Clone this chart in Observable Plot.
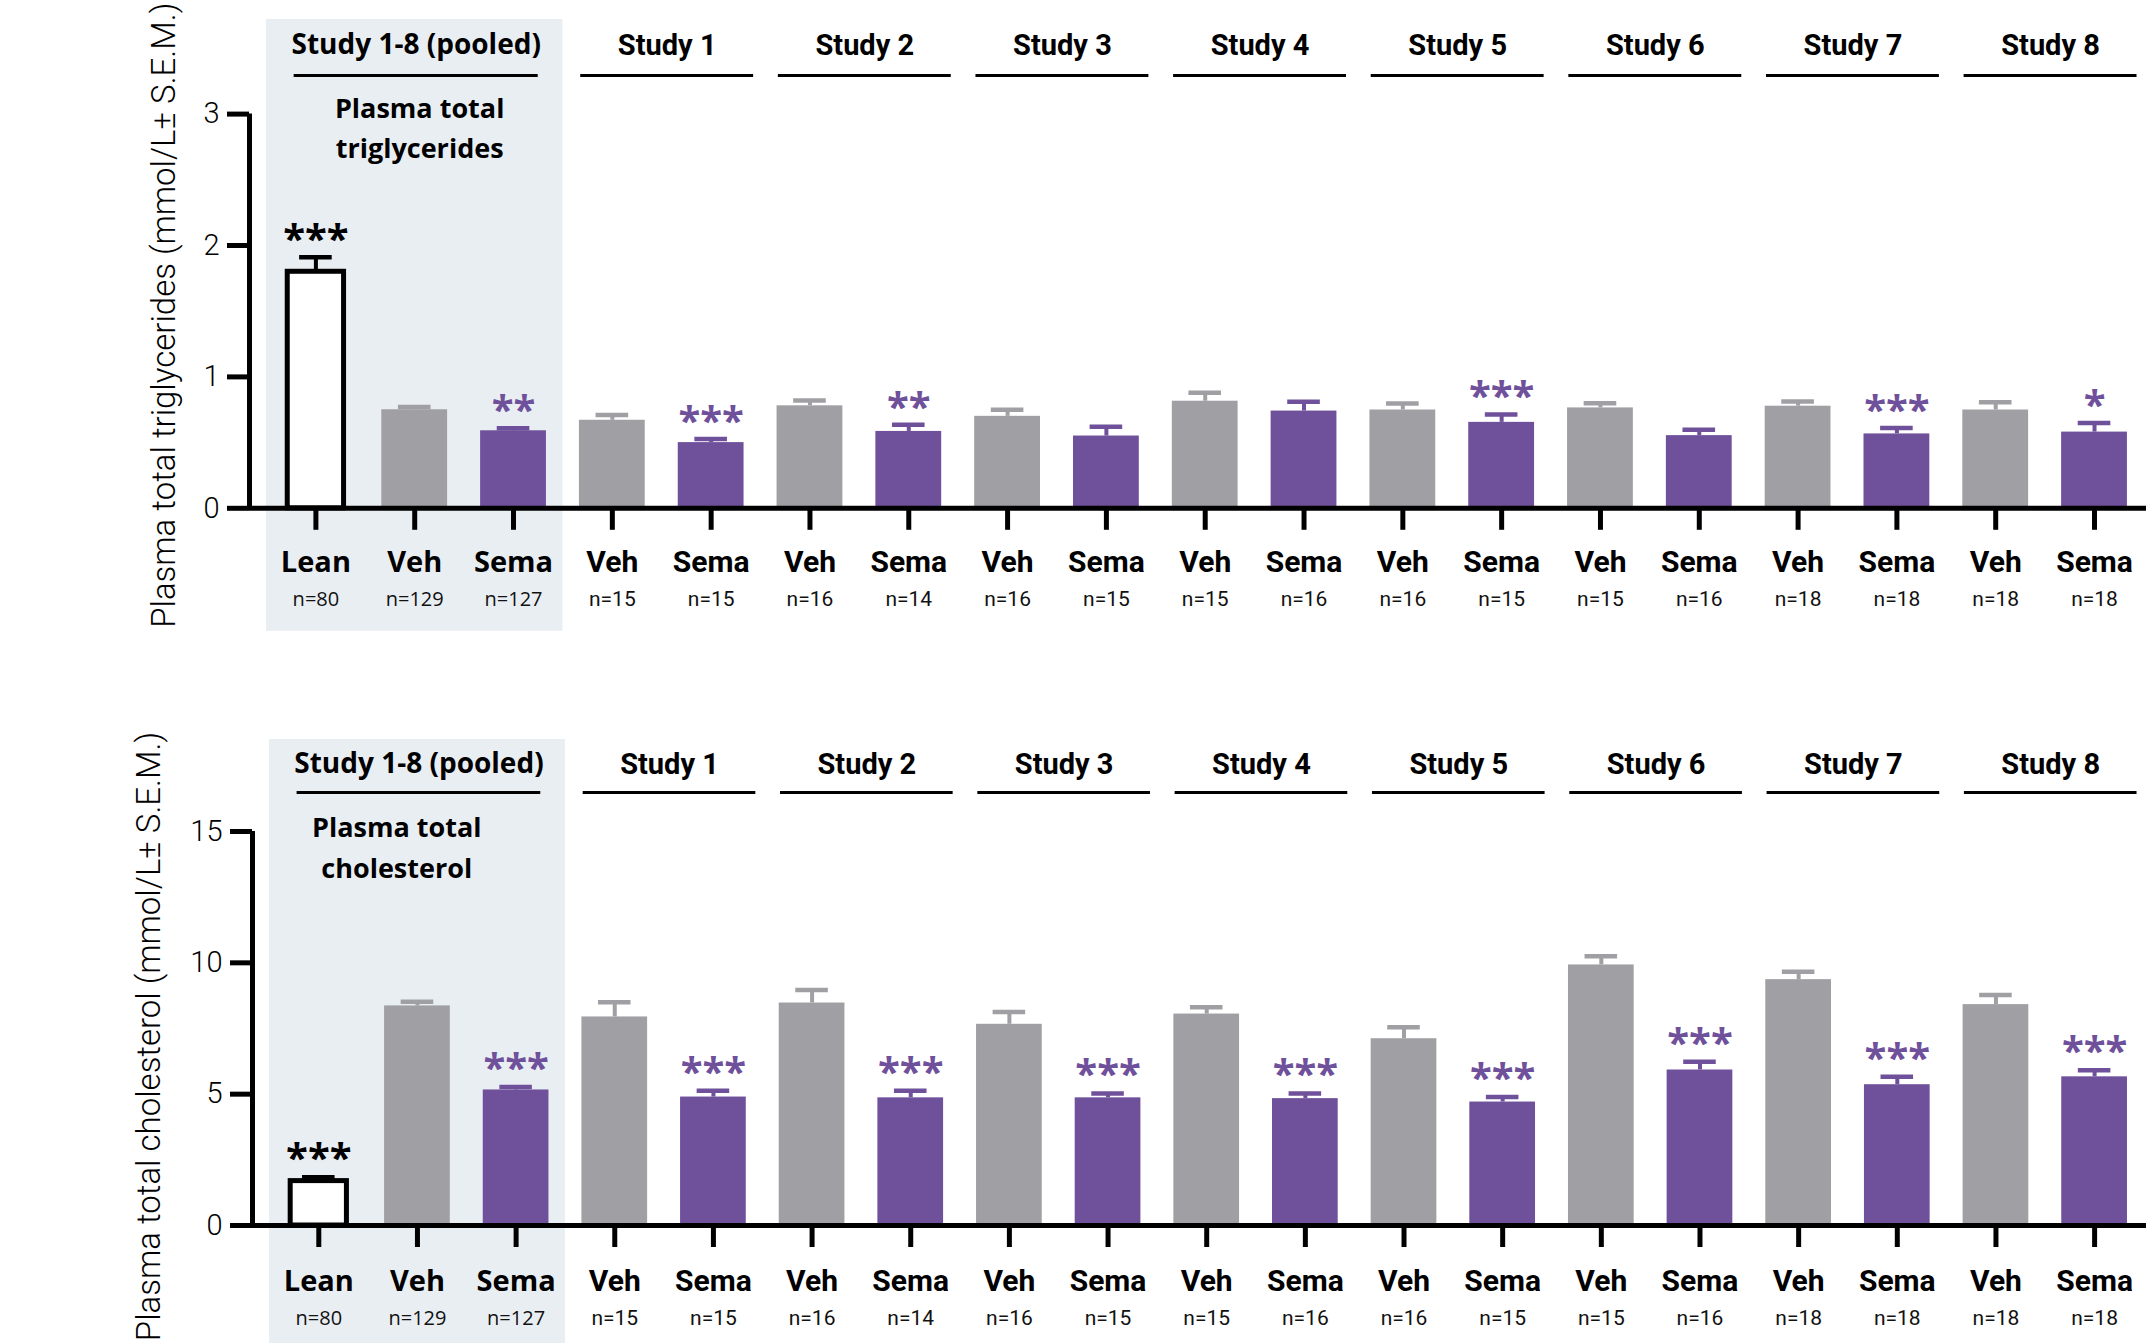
<!DOCTYPE html>
<html><head><meta charset="utf-8">
<script src="https://cdn.jsdelivr.net/npm/d3@7"></script>
<script src="https://cdn.jsdelivr.net/npm/@observablehq/plot@0.6"></script>
<style>
html,body{margin:0;padding:0;background:#fff;overflow:hidden;}
#chart svg{display:block;}
</style></head><body><div id="chart"></div>
<script>
// ---- data ----
const groups = ["Lean","Veh","Sema","Veh","Sema","Veh","Sema","Veh","Sema","Veh","Sema","Veh","Sema","Veh","Sema","Veh","Sema","Veh","Sema"];
const nLabels = ["n=80","n=129","n=127","n=15","n=15","n=16","n=14","n=16","n=15","n=15","n=16","n=16","n=15","n=15","n=16","n=18","n=18","n=18","n=18"];
const studies = ["Study 1-8 (pooled)","Study 1","Study 2","Study 3","Study 4","Study 5","Study 6","Study 7","Study 8"];
const studyFirst = [0,3,5,7,9,11,13,15,17];
const studyLast  = [2,4,6,8,10,12,14,16,18];

const tgMean = [1.80,0.75,0.59,0.67,0.50,0.78,0.585,0.70,0.55,0.815,0.74,0.748,0.654,0.764,0.553,0.777,0.566,0.748,0.58];
const tgSem  = [0.11,0.02,0.02,0.04,0.028,0.04,0.05,0.05,0.07,0.065,0.07,0.05,0.06,0.035,0.045,0.035,0.045,0.06,0.07];
const tgStars = ["***","","**","","***","","**","","","","","","***","","","","***","","*"];

const chMean = [1.69,8.36,5.16,7.94,4.89,8.47,4.86,7.66,4.86,8.05,4.83,7.11,4.70,9.92,5.92,9.36,5.36,8.41,5.66];
const chSem  = [0.15,0.16,0.11,0.56,0.24,0.50,0.27,0.47,0.17,0.26,0.20,0.44,0.19,0.33,0.31,0.30,0.30,0.37,0.25];
const chStars = ["***","","***","","***","","***","","***","","***","","***","","***","","***","","***"];

const tgTicks = [0,1,2,3];
const chTicks = [0,5,10,15];

// ---- style ----
const PURPLE = "#6f509b", GRAY = "#a09fa4", SHADE = "#e9eef3", BLACK = "#000";
const BOLD_WIDE = "'Open Sans', sans-serif";
const BOLD_NARROW = "Roboto, sans-serif";
const LIGHT = "Roboto, sans-serif";

function makeRows(mean, sem, stars) {
  return groups.map((g, i) => ({
    i, g, n: nLabels[i],
    kind: i === 0 ? "lean" : (g === "Veh" ? "veh" : "sema"),
    mean: mean[i], hi: mean[i] + sem[i], star: stars[i], pooled: i < 3
  }));
}
const headerRows = studies.map((s, k) => {
  const pooled = k === 0;
  const x1 = studyFirst[k] - (pooled ? 0.22 : 0.32);
  const x2 = studyLast[k] + (pooled ? 0.25 : 0.43);
  return {s, pooled, x1, x2, xc: (x1 + x2) / 2};
});

function panel(cfg) {
  const rows = makeRows(cfg.mean, cfg.sem, cfg.stars);
  const yMax = cfg.ticks[cfg.ticks.length - 1];
  const xmin = -0.672, xmax = 18.526;
  const col = d => d.kind === "lean" ? "#fff" : d.kind === "veh" ? GRAY : PURPLE;
  const lineCol = d => d.kind === "lean" ? BLACK : d.kind === "veh" ? GRAY : PURPLE;
  return Plot.plot({
    width: 2146, height: cfg.height,
    marginLeft: cfg.marginLeft, marginRight: 0,
    marginTop: cfg.marginTop, marginBottom: cfg.marginBottom,
    style: {fontFamily: LIGHT, background: "transparent", overflow: "visible"},
    x: {type: "linear", domain: [xmin, xmax]},
    y: {domain: [0, yMax]},
    color: {type: "identity"},
    marks: [
      Plot.rect([0], {x1: () => -0.5, x2: () => 2.5, fill: SHADE,
        insetTop: cfg.shadeTop, insetBottom: cfg.shadeBottom}),
      Plot.ruleY(headerRows, {x1: "x1", x2: "x2", y: () => yMax, dy: cfg.headerLineDy, stroke: BLACK, strokeWidth: 3}),
      Plot.text(headerRows.filter(d => d.pooled), {x: "xc", y: () => yMax, text: "s", dy: cfg.headerDy,
        fontFamily: BOLD_WIDE, fontWeight: 700, fontSize: 28, fill: BLACK}),
      Plot.text(headerRows.filter(d => !d.pooled), {x: "xc", y: () => yMax, text: "s", dy: cfg.headerDy,
        fontFamily: BOLD_NARROW, fontWeight: 700, fontSize: 29, fill: BLACK}),
      Plot.text([cfg.title], {x: () => cfg.titleX, y: () => yMax, text: d => d, dy: cfg.titleDy,
        lineAnchor: "middle", lineHeight: 1.5, fontFamily: BOLD_WIDE, fontWeight: 700, fontSize: 27, fill: BLACK}),
      Plot.ruleX(rows, {x: "i", y1: "mean", y2: "hi", stroke: lineCol, strokeWidth: 4}),
      Plot.ruleY(rows, {x1: d => d.i - 0.165, x2: d => d.i + 0.165, y: "hi", stroke: lineCol, strokeWidth: 4.5}),
      Plot.rectY(rows.filter(d => d.kind !== "lean"), {x1: d => d.i - 0.333, x2: d => d.i + 0.333, y1: () => 0, y2: "mean", fill: col}),
      Plot.rectY(rows.filter(d => d.kind === "lean"), {x1: d => d.i - 0.285, x2: d => d.i + 0.285, y1: () => 0, y2: "mean", fill: "#fff", stroke: BLACK, strokeWidth: 5}),
      Plot.text(rows.filter(d => d.star), {x: "i", y: "hi", text: "star", dy: cfg.starDy, lineAnchor: "bottom",
        fill: d => d.kind === "lean" ? BLACK : PURPLE, fontFamily: BOLD_WIDE, fontWeight: 700, fontSize: 40}),
      Plot.axisY({ticks: cfg.ticks, tickSize: 22, strokeWidth: 5, tickPadding: 8, fontSize: 29, fontWeight: 300, label: null, tickFormat: d => String(d)}),
      Plot.ruleX([xmin], {y1: () => 0, y2: () => yMax, strokeWidth: 5, stroke: BLACK}),
      Plot.ruleY([0], {strokeWidth: 5, stroke: BLACK}),
      Plot.axisX({ticks: groups.map((g, i) => i), tickSize: 22, strokeWidth: 5, tickFormat: () => "", label: null}),
      Plot.text(rows.filter(d => d.pooled), {x: "i", y: () => 0, text: "g", dy: cfg.labelDy, lineAnchor: "middle",
        fontFamily: BOLD_WIDE, fontWeight: 700, fontSize: 29, fill: BLACK}),
      Plot.text(rows.filter(d => !d.pooled), {x: "i", y: () => 0, text: "g", dy: cfg.labelDy, lineAnchor: "middle",
        fontFamily: BOLD_NARROW, fontWeight: 700, fontSize: 30, fill: BLACK}),
      Plot.text(rows.filter(d => d.pooled), {x: "i", y: () => 0, text: "n", dy: cfg.nDy, lineAnchor: "middle",
        fontFamily: BOLD_WIDE, fontWeight: 400, fontSize: 20, fill: "#111"}),
      Plot.text(rows.filter(d => !d.pooled), {x: "i", y: () => 0, text: "n", dy: cfg.nDy, lineAnchor: "middle",
        fontFamily: LIGHT, fontWeight: 400, fontSize: 21, fill: "#111"}),
      Plot.text([cfg.yLabel], {frameAnchor: "left", text: d => d, rotate: -90, textAnchor: "middle", lineAnchor: "middle",
        dx: cfg.yLabelDx, dy: cfg.yLabelDy, fontFamily: LIGHT, fontWeight: 300, fontSize: 33, fill: BLACK})
    ]
  });
}

const topPanel = panel({
  mean: tgMean, sem: tgSem, stars: tgStars, ticks: tgTicks,
  title: "Plasma total\ntriglycerides", yLabel: "Plasma total triglycerides (mmol/L± S.E.M.)",
  height: 672, marginLeft: 249, marginTop: 113.6, marginBottom: 164.2,
  shadeTop: -94.6, shadeBottom: -123, headerDy: -68.6, headerLineDy: -38.6,
  titleX: 1.05, titleDy: 11, labelDy: 54, nDy: 91, starDy: -4,
  yLabelDx: -85, yLabelDy: 4
});
const bottomPanel = panel({
  mean: chMean, sem: chSem, stars: chStars, ticks: chTicks,
  title: "Plasma total\ncholesterol", yLabel: "Plasma total cholesterol (mmol/L± S.E.M.)",
  height: 671, marginLeft: 252, marginTop: 159, marginBottom: 118,
  shadeTop: -92, shadeBottom: -118, headerDy: -67, headerLineDy: -39,
  titleX: 0.79, titleDy: 13, labelDy: 56, nDy: 93, starDy: -5,
  yLabelDx: -103.5, yLabelDy: 8
});
const root = document.getElementById("chart");
root.appendChild(topPanel);
root.appendChild(bottomPanel);
</script></body></html>
